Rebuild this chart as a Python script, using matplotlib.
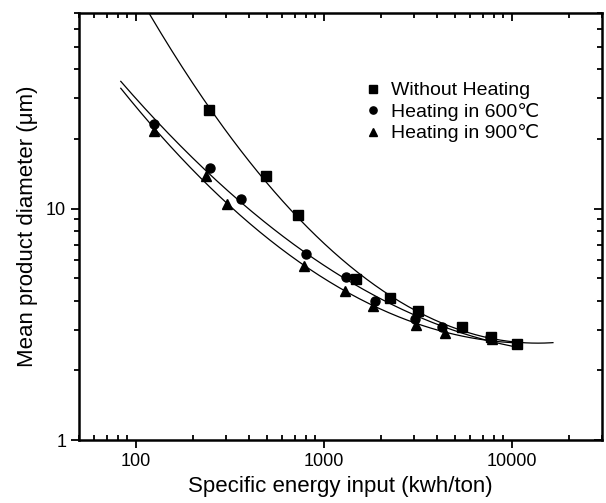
import numpy as np
import matplotlib
matplotlib.use("Agg")
import matplotlib.pyplot as plt
from matplotlib.ticker import LogLocator, NullFormatter, FixedLocator, FixedFormatter

plt.rcParams['font.family'] = ['Liberation Sans', 'DejaVu Sans', 'Noto Sans CJK SC']

# energy input (kwh/ton) and mean diameter (um)
energy_none = [244, 490, 731, 1483, 2244, 3167, 5408, 7700, 10640]
diam_none = [26.6, 13.9, 9.42, 4.96, 4.13, 3.62, 3.09, 2.78, 2.60]

energy_600 = [124, 249, 360, 804, 1312, 1858, 3055, 4225, 7590]
diam_600 = [23.3, 15.0, 11.0, 6.34, 5.09, 4.01, 3.33, 3.07, 2.80]

energy_900 = [124, 235, 303, 785, 1300, 1820, 3077, 4413, 7800]
diam_900 = [21.6, 13.8, 10.5, 5.63, 4.39, 3.80, 3.15, 2.91, 2.73]

labels = ['Without Heating', 'Heating in 600\u2103', 'Heating in 900\u2103']
markers = ['s', 'o', '^']
curve_span = [(100, 16500), (83, 10500), (83, 10500)]

series = [(energy_none, diam_none), (energy_600, diam_600), (energy_900, diam_900)]

XLIM = (50, 30000)
YLIM = (1, 70)

fig = plt.figure(figsize=(6.06, 5.03), dpi=100)
ax = fig.add_axes([0.131, 0.125, 0.862, 0.849])

for (ex, dy), mk, lab, (lo, hi) in zip(series, markers, labels, curve_span):
    # smooth fit through the points in log-log space, like the original trend lines
    coef = np.polyfit(np.log10(ex), np.log10(dy), 2)
    xs = np.logspace(np.log10(lo), np.log10(hi), 200)
    ax.plot(xs, 10 ** np.polyval(coef, np.log10(xs)), color='black', lw=0.9)
    ax.plot(ex, dy, linestyle='none', marker=mk, color='black',
            markersize=6.5 if mk != '^' else 7, label=lab)

ax.set_xscale('log')
ax.set_yscale('log')
ax.set_xlim(*XLIM)
ax.set_ylim(*YLIM)

def set_log_ticks(a):
    a.xaxis.set_major_locator(FixedLocator([100, 1000, 10000]))
    a.yaxis.set_major_locator(FixedLocator([1, 10]))
    a.xaxis.set_minor_locator(LogLocator(base=10, subs=np.arange(2, 10)))
    a.yaxis.set_minor_locator(LogLocator(base=10, subs=np.arange(2, 10)))
    a.xaxis.set_minor_formatter(NullFormatter())
    a.yaxis.set_minor_formatter(NullFormatter())

set_log_ticks(ax)
ax.xaxis.set_major_formatter(FixedFormatter(['100', '1000', '10000']))
ax.yaxis.set_major_formatter(FixedFormatter(['1', '10']))

ax.tick_params(which='both', labelsize=13, width=1.3)
ax.tick_params(axis='y', which='major', direction='out', length=6)
ax.tick_params(axis='y', which='minor', direction='out', length=3.5)
ax.tick_params(axis='x', which='major', direction='out', length=6)
ax.tick_params(axis='x', which='minor', direction='in', length=3.5)
for side in ['top', 'bottom', 'left', 'right']:
    ax.spines[side].set_linewidth(1.8)

# inward ticks on the top and right edges
ax_top = ax.twiny()
ax_top.set_xscale('log')
ax_top.set_xlim(*XLIM)
ax_right = ax.twinx()
ax_right.set_yscale('log')
ax_right.set_ylim(*YLIM)
for a in (ax_top, ax_right):
    set_log_ticks(a)
    a.tick_params(which='both', direction='in', width=1.3,
                  labeltop=False, labelright=False, labelbottom=False, labelleft=False)
    a.tick_params(which='major', length=6)
    a.tick_params(which='minor', length=3.5)
    for side in ['top', 'bottom', 'left', 'right']:
        a.spines[side].set_visible(False)

ax.set_xlabel('Specific energy input (kwh/ton)', fontsize=16, labelpad=4)
ax.set_ylabel('Mean product diameter (\u03bcm)', fontsize=16, labelpad=6)

ax_right.legend(*ax.get_legend_handles_labels(), loc='upper left',
                bbox_to_anchor=(0.51, 0.88), frameon=False, fontsize=14,
                handlelength=1.0, handletextpad=0.4, labelspacing=0.18,
                markerscale=0.8)

fig.savefig('out.png', dpi=100)
